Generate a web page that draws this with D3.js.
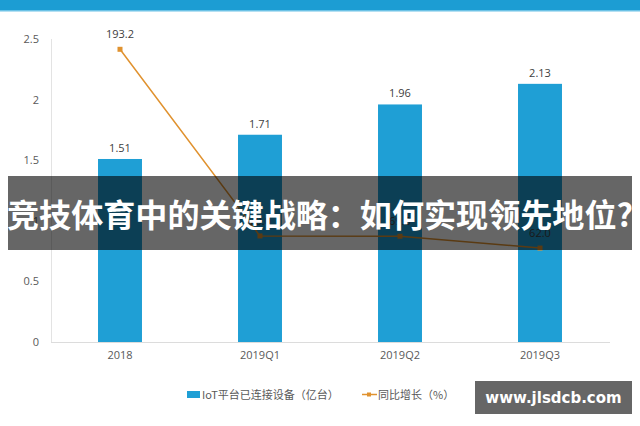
<!DOCTYPE html>
<html><head><meta charset="utf-8">
<script src="https://cdn.jsdelivr.net/npm/d3@7"></script>
<style>
html,body{margin:0;padding:0;background:#fff;}
svg{display:block;font-family:"Open Sans","Noto Sans CJK SC",sans-serif;}
</style></head>
<body>
<script>
const categories = ["2018", "2019Q1", "2019Q2", "2019Q3"];
const devices = [1.51, 1.71, 1.96, 2.13];
const growth = [193.2, 70.0, 69.8, 62.0];
const leftTicks = [0, 0.5, 1, 1.5, 2, 2.5];
const seriesNames = ["IoT平台已连接设备（亿台）", "同比增长（%）"];
const bannerText = "竞技体育中的关键战略：如何实现领先地位?";
const watermark = "www.jlsdcb.com";

const W = 640, H = 426;
const svg = d3.select("body").append("svg").attr("width", W).attr("height", H);

const x = d3.scaleBand().domain(categories).range([50, 610]).paddingInner(0.686).paddingOuter(0.343);
const xc = d => x(d) + x.bandwidth() / 2;
const y = d3.scaleLinear().domain([0, 2.5]).range([342, 39]);
const y2 = d3.scaleLinear().domain([0, 200]).range([342, 39]);

// top strip
svg.append("rect").attr("x", 0).attr("y", 0).attr("width", W).attr("height", 11).attr("fill", "#1C9DD3");
svg.append("rect").attr("x", 0).attr("y", 10).attr("width", W).attr("height", 1.5).attr("fill", "#6cc2e6");

// left axis line
svg.append("line").attr("x1", 51.5).attr("x2", 51.5).attr("y1", 39).attr("y2", 342).attr("stroke", "#e3e3e3");
// x axis line
svg.append("line").attr("x1", 51).attr("x2", 610).attr("y1", 342.5).attr("y2", 342.5).attr("stroke", "#dcdcdc");

const yAxis = d3.axisLeft(y).tickValues(leftTicks).tickFormat(d3.format("~g")).tickSize(0).tickPadding(0);
const ga = svg.append("g").attr("transform", "translate(39,0)").call(yAxis);
ga.select(".domain").remove();
ga.selectAll("text").attr("fill", "#595959").attr("font-size", 11).attr("font-family", "Open Sans, sans-serif");

const xAxis = d3.axisBottom(x).tickSize(0).tickPadding(0);
const gx = svg.append("g").attr("transform", "translate(0,351)").call(xAxis);
gx.select(".domain").remove();
gx.selectAll("text").attr("fill", "#595959").attr("font-size", 11).attr("font-family", "Open Sans, sans-serif");

// bars
svg.selectAll("rect.bar").data(devices).enter().append("rect").attr("class", "bar")
  .attr("x", (d, i) => x(categories[i])).attr("width", x.bandwidth())
  .attr("y", d => y(d)).attr("height", d => y(0) - y(d)).attr("fill", "#1F9FD5");
svg.selectAll("text.blab").data(devices).enter().append("text").attr("class", "blab")
  .attr("x", (d, i) => xc(categories[i])).attr("y", d => y(d) - 7)
  .attr("text-anchor", "middle").attr("font-size", 11).attr("fill", "#404040")
  .text(d => d3.format(".2f")(d));

// line
const line = d3.line().x((d, i) => xc(categories[i])).y(d => y2(d));
svg.append("path").datum(growth).attr("d", line).attr("fill", "none")
  .attr("stroke", "#E0922F").attr("stroke-width", 1.5);
svg.selectAll("rect.pt").data(growth).enter().append("rect").attr("class", "pt")
  .attr("x", (d, i) => xc(categories[i]) - 2.5).attr("y", d => y2(d) - 2.5)
  .attr("width", 5).attr("height", 5).attr("fill", "#E0922F");
svg.selectAll("text.llab").data(growth).enter().append("text").attr("class", "llab")
  .attr("x", (d, i) => xc(categories[i])).attr("y", d => y2(d) - 11)
  .attr("text-anchor", "middle").attr("font-size", 11).attr("fill", "#404040")
  .text(d => d3.format(".1f")(d));

// legend
const lg = svg.append("g");
lg.append("rect").attr("x", 187).attr("y", 391).attr("width", 13).attr("height", 7).attr("fill", "#1F9FD5");
lg.append("text").attr("x", 202).attr("y", 398.5).attr("font-size", 11).attr("fill", "#595959")
  .attr("font-family", "Noto Sans CJK SC, sans-serif").text(seriesNames[0]);
lg.append("line").attr("x1", 362).attr("x2", 377).attr("y1", 394.5).attr("y2", 394.5).attr("stroke", "#E0922F").attr("stroke-width", 1.5);
lg.append("rect").attr("x", 367).attr("y", 392.5).attr("width", 4).attr("height", 4).attr("fill", "#E0922F");
lg.append("text").attr("x", 378).attr("y", 398.5).attr("font-size", 11).attr("fill", "#595959")
  .attr("font-family", "Noto Sans CJK SC, sans-serif").text(seriesNames[1]);

// banner overlay
svg.append("rect").attr("x", 8).attr("y", 176).attr("width", 624).attr("height", 74).attr("fill", "rgba(0,0,0,0.6)");
svg.append("text").attr("x", 320).attr("y", 213).attr("text-anchor", "middle").attr("dominant-baseline", "central")
  .attr("font-family", "Noto Sans CJK SC, sans-serif").attr("font-weight", "bold").attr("font-size", 31.5)
  .attr("fill", "#fff").attr("textLength", 626).attr("lengthAdjust", "spacingAndGlyphs").text(bannerText);

// watermark
svg.append("rect").attr("x", 475).attr("y", 381).attr("width", 157).attr("height", 33).attr("fill", "rgba(0,0,0,0.6)");
svg.append("text").attr("x", 553.5).attr("y", 398).attr("text-anchor", "middle").attr("dominant-baseline", "central")
  .attr("font-family", "DejaVu Sans, sans-serif").attr("font-weight", "bold").attr("font-size", 15)
  .attr("fill", "#fff").text(watermark);
</script>
</body></html>
